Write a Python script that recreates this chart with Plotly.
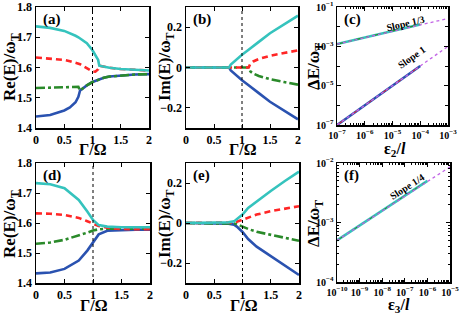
import plotly.graph_objects as go

# ---------------- data ----------------
# panel (a): Re(E)/omega_T vs Gamma/Omega
xa = [0, 0.25, 0.5, 0.6, 0.7, 0.75, 0.78, 0.85, 0.9, 1.0, 1.05, 1.1, 1.12, 1.2, 1.3, 1.5, 1.75, 2.0]
cyan_a = [1.736, 1.731, 1.721, 1.714, 1.705, 1.700, 1.696, 1.688, 1.680, 1.657, 1.643, 1.625, 1.606, 1.602, 1.599, 1.595, 1.592, 1.590]
red_a = [1.633, 1.630, 1.625, 1.621, 1.616, 1.613, 1.611, 1.603, 1.597, 1.587, 1.586, 1.594, 1.606, 1.602, 1.599, 1.595, 1.592, 1.590]
green_a = [1.532, 1.534, 1.536, 1.537, 1.537, 1.536, 1.524, 1.535, 1.541, 1.552, 1.556, 1.560, 1.561, 1.566, 1.570, 1.574, 1.577, 1.578]
blue_a = [1.438, 1.443, 1.458, 1.468, 1.485, 1.503, 1.524, 1.535, 1.541, 1.552, 1.556, 1.560, 1.561, 1.566, 1.570, 1.574, 1.577, 1.578]

# panel (b): Im(E)/omega_T vs Gamma/Omega
xb = [0, 0.5, 0.77, 0.8, 0.85, 0.9, 1.0, 1.1, 1.12, 1.15, 1.2, 1.3, 1.5, 1.75, 2.0]
cyan_b = [0, 0, 0, 0.015, 0.028, 0.040, 0.063, 0.084, 0.088, 0.094, 0.105, 0.127, 0.170, 0.215, 0.257]
blue_b = [0, 0, 0, -0.015, -0.028, -0.040, -0.063, -0.084, -0.088, -0.094, -0.105, -0.127, -0.170, -0.215, -0.257]
red_b = [0, 0, 0, 0, 0, 0, 0, 0, 0, 0.020, 0.030, 0.042, 0.058, 0.072, 0.085]
green_b = [0, 0, 0, 0, 0, 0, 0, 0, 0, -0.020, -0.030, -0.042, -0.058, -0.072, -0.085]

# panel (d): Re(E)/omega_T
xd = [0, 0.25, 0.5, 0.75, 0.9, 1.0, 1.1, 1.25, 1.5, 1.75, 2.0]
cyan_d = [1.733, 1.729, 1.716, 1.677, 1.638, 1.610, 1.593, 1.588, 1.586, 1.586, 1.586]
red_d = [1.632, 1.631, 1.627, 1.617, 1.606, 1.598, 1.590, 1.584, 1.580, 1.579, 1.579]
green_d = [1.531, 1.535, 1.544, 1.558, 1.568, 1.575, 1.579, 1.581, 1.581, 1.581, 1.581]
blue_d = [1.432, 1.435, 1.447, 1.475, 1.508, 1.537, 1.562, 1.574, 1.577, 1.578, 1.578]

# panel (e): Im(E)/omega_T
xe = [0, 0.5, 0.75, 0.85, 0.9, 1.0, 1.1, 1.25, 1.5, 1.75, 2.0]
cyan_e = [0, 0.001, 0.003, 0.008, 0.018, 0.042, 0.075, 0.108, 0.160, 0.210, 0.257]
blue_e = [0, -0.001, -0.003, -0.008, -0.018, -0.045, -0.080, -0.118, -0.165, -0.215, -0.260]
red_e = [0, 0, 0.001, 0.003, 0.006, 0.017, 0.028, 0.042, 0.059, 0.073, 0.084]
green_e = [0, 0, -0.001, -0.003, -0.006, -0.019, -0.030, -0.044, -0.060, -0.075, -0.089]

# panel (c): Delta E vs eps2/l (log-log)
eps2 = [1e-7, 1e-6, 1e-5, 1e-4]
dE_c_13 = [1.3e-3, 2.8e-3, 6.0e-3, 1.3e-2]
dE_c_1 = [1e-7, 1e-6, 1e-5, 1e-4]
eps2_fit = [1e-7, 1e-3]
fit_c_13 = [1.3e-3, 2.6e-2]
fit_c_1 = [1e-7, 1e-3]

# panel (f): Delta E vs eps3/l (log-log)
eps3 = [1e-10, 1e-9, 1e-8, 1e-7, 1e-6]
dE_f_14 = [5.0e-4, 8.9e-4, 1.58e-3, 2.8e-3, 5.0e-3]
eps3_fit = [1e-10, 1e-5]
fit_f_14 = [5.0e-4, 8.6e-3]

lin_ticks = [0, 0.5, 1, 1.5, 2]
lin_ticktext = ["0", "0.5", "1", "1.5", "2"]
re_ticks = [1.4, 1.5, 1.6, 1.7, 1.8]
re_ticktext = ["1.4", "1.5", "1.6", "1.7", "1.8"]
im_ticks = [-0.2, 0, 0.2]
im_ticktext = ["\u22120.2", "0", "0.2"]
c_xexp = [-7, -6, -5, -4, -3]
c_yexp = [-7, -5, -3, -1]
f_xexp = [-10, -9, -8, -7, -6, -5]
f_yexp = [-4, -3, -2]

# ---------------- style ----------------
W, H = 463, 314
FONT = "Liberation Serif"
CYAN = "#35c3bd"
RED = "#ff2626"
GREEN = "#2a8a2a"
BLUE = "#2a52b0"
MAG = "#c264e6"
LW = 2.6


def dom(x0, x1, y0, y1):
    return [x0 / W, x1 / W], [1 - y1 / H, 1 - y0 / H]


def px(x, y):
    return x / W, 1 - y / H


def pw(e):
    return "10<sup>\u2212%d</sup>" % (-e)


fig = go.Figure()

panels = {
    "a": dict(ax="x", ay="y", dom=dom(36, 149, 7, 128)),
    "b": dict(ax="x2", ay="y2", dom=dom(186, 298, 7, 128)),
    "c": dict(ax="x3", ay="y3", dom=dom(337, 448, 7, 125)),
    "d": dict(ax="x4", ay="y4", dom=dom(36, 150, 163, 283)),
    "e": dict(ax="x5", ay="y5", dom=dom(186, 299, 163, 283)),
    "f": dict(ax="x6", ay="y6", dom=dom(337, 450, 163, 282)),
}


def add4(x, blue, green, red, cyan, ax, ay):
    fig.add_trace(go.Scatter(x=x, y=blue, mode="lines", line=dict(color=BLUE, width=LW), xaxis=ax, yaxis=ay))
    fig.add_trace(go.Scatter(x=x, y=green, mode="lines", line=dict(color=GREEN, width=LW, dash="dashdot"), xaxis=ax, yaxis=ay))
    fig.add_trace(go.Scatter(x=x, y=red, mode="lines", line=dict(color=RED, width=LW, dash="6px,4px"), xaxis=ax, yaxis=ay))
    fig.add_trace(go.Scatter(x=x, y=cyan, mode="lines", line=dict(color=CYAN, width=LW), xaxis=ax, yaxis=ay))


add4(xa, blue_a, green_a, red_a, cyan_a, "x", "y")
add4(xb, blue_b, green_b, red_b, cyan_b, "x2", "y2")
add4(xd, blue_d, green_d, red_d, cyan_d, "x4", "y4")
add4(xe, blue_e, green_e, red_e, cyan_e, "x5", "y5")

# panel c
fig.add_trace(go.Scatter(x=eps2, y=dE_c_13, mode="lines", line=dict(color=CYAN, width=LW), xaxis="x3", yaxis="y3"))
fig.add_trace(go.Scatter(x=eps2, y=dE_c_13, mode="lines", line=dict(color=GREEN, width=1.2, dash="dashdot"), xaxis="x3", yaxis="y3"))
fig.add_trace(go.Scatter(x=eps2, y=dE_c_1, mode="lines", line=dict(color=BLUE, width=LW), xaxis="x3", yaxis="y3"))
fig.add_trace(go.Scatter(x=eps2, y=dE_c_1, mode="lines", line=dict(color=RED, width=1.0, dash="dash"), xaxis="x3", yaxis="y3"))
fig.add_trace(go.Scatter(x=eps2_fit, y=fit_c_13, mode="lines", line=dict(color=MAG, width=1.3, dash="dot"), xaxis="x3", yaxis="y3"))
fig.add_trace(go.Scatter(x=eps2_fit, y=fit_c_1, mode="lines", line=dict(color=MAG, width=1.3, dash="dot"), xaxis="x3", yaxis="y3"))

# panel f
fig.add_trace(go.Scatter(x=eps3, y=dE_f_14, mode="lines", line=dict(color=CYAN, width=LW), xaxis="x6", yaxis="y6"))
fig.add_trace(go.Scatter(x=eps3, y=dE_f_14, mode="lines", line=dict(color=GREEN, width=1.0, dash="dashdot"), xaxis="x6", yaxis="y6"))
fig.add_trace(go.Scatter(x=eps3_fit, y=fit_f_14, mode="lines", line=dict(color=MAG, width=1.3, dash="dot"), xaxis="x6", yaxis="y6"))

tickfont = dict(family=FONT, size=12, color="black", weight="bold")
logtickfont = dict(family=FONT, size=10, color="black", weight="bold")
ytitlefont = dict(family=FONT, size=17, color="black", weight="bold")
xtitlefont = dict(family=FONT, size=16, color="black", weight="bold")

common = dict(showline=True, linecolor="black", linewidth=1.5, mirror="ticks", ticks="inside",
              ticklen=4, tickwidth=1, tickcolor="black", showgrid=False, zeroline=False,
              tickfont=tickfont, automargin=False, tickangle=0, ticklabelstandoff=0)

layout = dict(width=W, height=H, margin=dict(l=0, r=0, t=0, b=0), showlegend=False,
              plot_bgcolor="white", paper_bgcolor="white", hovermode=False)


def axname(a, kind):
    return kind + "axis" + a[1:]


for key, p in panels.items():
    xd_, yd_ = p["dom"]
    xa_ = dict(common, domain=xd_, anchor=p["ay"])
    ya_ = dict(common, domain=yd_, anchor=p["ax"])
    if key in "abde":
        xa_.update(range=[0, 2], tickvals=lin_ticks, ticktext=lin_ticktext)
        if key in "ad":
            ya_.update(range=[1.4, 1.8], tickvals=re_ticks, ticktext=re_ticktext)
        else:
            ya_.update(range=[-0.3, 0.3], tickvals=im_ticks, ticktext=im_ticktext)
    elif key == "c":
        xa_.update(type="log", range=[-7, -3], tickvals=[10.0 ** e for e in c_xexp],
                   ticktext=[pw(e) for e in c_xexp], tickfont=logtickfont,
                   minor=dict(ticks="inside", ticklen=2, tickcolor="black",
                              tickvals=[k * 10.0 ** e for e in range(-7, -3) for k in range(2, 10)]))
        ya_.update(type="log", range=[-7, -1], tickvals=[10.0 ** e for e in c_yexp],
                   ticktext=[pw(e) for e in c_yexp], tickfont=logtickfont,
                   minor=dict(ticks="inside", ticklen=3, tickcolor="black",
                              tickvals=[10.0 ** e for e in range(-6, -1, 2)]))
    else:
        xa_.update(type="log", range=[-10, -5], tickvals=[10.0 ** e for e in f_xexp],
                   ticktext=[pw(e) for e in f_xexp], tickfont=logtickfont,
                   minor=dict(ticks="inside", ticklen=2, tickcolor="black",
                              tickvals=[k * 10.0 ** e for e in range(-10, -5) for k in range(2, 10)]))
        ya_.update(type="log", range=[-4, -2], tickvals=[10.0 ** e for e in f_yexp],
                   ticktext=[pw(e) for e in f_yexp], tickfont=logtickfont,
                   minor=dict(ticks="inside", ticklen=2, tickcolor="black",
                              tickvals=[k * 10.0 ** e for e in range(-4, -2) for k in range(2, 10)]))
    layout[axname(p["ax"], "x")] = xa_
    layout[axname(p["ay"], "y")] = ya_

fig.update_layout(**layout)

# dotted vertical line at Gamma/Omega = 1
for key in "abde":
    p = panels[key]
    fig.add_shape(type="line", x0=1, x1=1, y0=0, y1=1, xref=p["ax"], yref=p["ay"] + " domain",
                  line=dict(color="black", width=1, dash="dot"))

# panel labels
for key in "abcdef":
    p = panels[key]
    fig.add_annotation(text="(%s)" % key, x=0.045, y=0.985, xref=p["ax"] + " domain", yref=p["ay"] + " domain",
                       xanchor="left", yanchor="top", showarrow=False,
                       font=dict(family=FONT, size=15, color="black", weight="bold"))

# axis titles (positions in page pixels)
y_titles = [
    ("Re(E)/\u03c9<sub>T</sub>", 11, 67),
    ("Im(E)/\u03c9<sub>T</sub>", 166, 67),
    ("\u0394E/\u03c9<sub>T</sub>", 315, 67),
    ("Re(E)/\u03c9<sub>T</sub>", 11, 224),
    ("Im(E)/\u03c9<sub>T</sub>", 166, 224),
    ("\u0394E/\u03c9<sub>T</sub>", 315, 224),
]
x_titles = [
    ("\u0393/\u03a9", 93, 149),
    ("\u0393/\u03a9", 243, 149),
    ("\u03b5<sub>2</sub>/<i>l</i>", 395, 149),
    ("\u0393/\u03a9", 94, 305),
    ("\u0393/\u03a9", 244, 305),
    ("\u03b5<sub>3</sub>/<i>l</i>", 399, 305),
]
for text, tx, ty in y_titles:
    ax_, ay_ = px(tx, ty)
    fig.add_annotation(text=text, x=ax_, y=ay_, xref="paper", yref="paper", showarrow=False,
                       xanchor="center", yanchor="middle", textangle=-90, font=ytitlefont)
for text, tx, ty in x_titles:
    ax_, ay_ = px(tx, ty)
    fig.add_annotation(text=text, x=ax_, y=ay_, xref="paper", yref="paper", showarrow=False,
                       xanchor="center", yanchor="middle", font=xtitlefont)

slope_font = dict(family=FONT, size=10, color="black", weight="bold")
slope_notes = [
    ("Slope 1/3", "x3", "y3", 0.613, 0.864, -13),
    ("Slope 1", "x3", "y3", 0.667, 0.576, -35),
    ("Slope 1/4", "x6", "y6", 0.623, 0.80, -33),
]
for text, axr, ayr, fx, fy, ang in slope_notes:
    fig.add_annotation(text=text, x=fx, y=fy, xref=axr + " domain", yref=ayr + " domain", showarrow=False,
                       xanchor="center", yanchor="middle", textangle=ang, font=slope_font)

fig.write_html("out.html", post_script="document.body.style.margin='0';",
               config={"displayModeBar": False, "staticPlot": True})
